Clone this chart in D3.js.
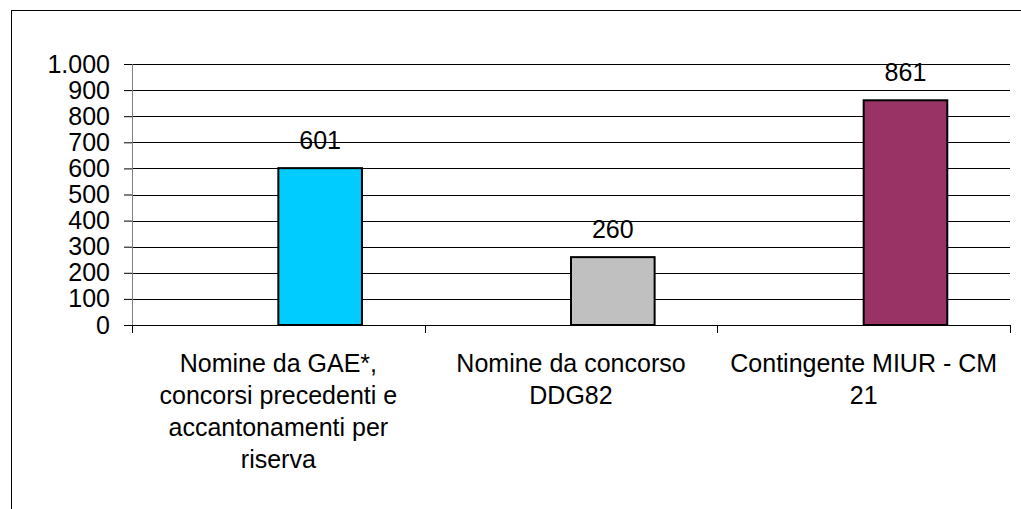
<!DOCTYPE html>
<html>
<head>
<meta charset="utf-8">
<script src="https://cdn.jsdelivr.net/npm/d3@7"></script>
<style>
  body { margin: 0; background: #fff; }
  text { font-family: "Liberation Sans", Arial, sans-serif; fill: #000; }
</style>
</head>
<body>
<div id="chart"></div>
<script>
// data
var categories = [
    "Nomine da GAE*, concorsi precedenti e accantonamenti per riserva",
    "Nomine da concorso DDG82",
    "Contingente MIUR - CM 21"
];
// how Excel wrapped the category labels
var categoryLines = [
    ["Nomine da GAE*,", "concorsi precedenti e", "accantonamenti per", "riserva"],
    ["Nomine da concorso", "DDG82"],
    ["Contingente MIUR - CM", "21"]
];
var values = [601, 260, 861];
var barColors = ["#00CCFF", "#C0C0C0", "#993366"];
// the chart has an empty first series, bars sit in the second slot
var seriesSlots = ["vuota", "valori"];
var yTicks = d3.range(0, 1001, 100);

var W = 1021, H = 509;
var margin = { top: 64, right: 11, bottom: 184, left: 132 };
var width = W - margin.left - margin.right;
var height = H - margin.top - margin.bottom;

var it = d3.formatLocale({ decimal: ",", thousands: ".", grouping: [3], currency: ["€", ""] });
var fmt = it.format(",d");

var svg = d3.select("#chart").append("svg")
    .attr("width", W)
    .attr("height", H);

// outer chart frame (runs off the right and bottom edge)
svg.append("rect")
    .attr("x", 11.5)
    .attr("y", 10.5)
    .attr("width", W + 20)
    .attr("height", H + 20)
    .attr("fill", "none")
    .attr("stroke", "#000")
    .attr("stroke-width", 1);

var g = svg.append("g")
    .attr("transform", "translate(" + margin.left + "," + margin.top + ")");

var x0 = d3.scaleBand()
    .domain(categories)
    .range([0, width])
    .padding(0);

var x1 = d3.scaleBand()
    .domain(seriesSlots)
    .range([0, x0.bandwidth()])
    .paddingInner(0)
    .paddingOuter(0.75);

var y = d3.scaleLinear()
    .domain([0, 1000])
    .range([height, 0]);

// gridlines
g.append("g")
    .selectAll("line")
    .data(yTicks.slice(1))
    .join("line")
        .attr("x1", 0)
        .attr("x2", width)
        .attr("y1", d => Math.round(y(d)) + 0.5)
        .attr("y2", d => Math.round(y(d)) + 0.5)
        .attr("stroke", "#000")
        .attr("stroke-width", 1);

// y axis
var yAxis = g.append("g")
    .attr("class", "yaxis")
    .call(d3.axisLeft(y).tickValues(yTicks).tickFormat(fmt).tickSize(8).tickPadding(14));
yAxis.select(".domain").attr("stroke", "#808080");
yAxis.selectAll(".tick line").attr("stroke", "#000");
yAxis.selectAll(".tick text").style("font-size", "25px").attr("fill", "#000");
yAxis.selectAll("text").attr("font-family", null);

// x axis: ticks between categories
var xAxis = g.append("g")
    .attr("class", "xaxis")
    .attr("transform", "translate(0," + height + ")");
xAxis.append("line")
    .attr("x1", 0)
    .attr("x2", width)
    .attr("y1", 0.5)
    .attr("y2", 0.5)
    .attr("stroke", "#000");
xAxis.selectAll("line.tk")
    .data(categories.concat([null]))
    .join("line")
        .attr("class", "tk")
        .attr("x1", (d, i) => Math.round(i * x0.step()) + 0.5)
        .attr("x2", (d, i) => Math.round(i * x0.step()) + 0.5)
        .attr("y1", 0)
        .attr("y2", 8)
        .attr("stroke", "#000");

// category labels
var lab = xAxis.selectAll("text.cat")
    .data(categories)
    .join("text")
        .attr("class", "cat")
        .attr("text-anchor", "middle")
        .style("font-size", "25px")
        .attr("transform", d => "translate(" + (x0(d) + x0.bandwidth() / 2) + ",47)");
lab.selectAll("tspan")
    .data((d, i) => categoryLines[i])
    .join("tspan")
        .attr("x", 0)
        .attr("y", (d, i) => i * 32)
        .text(d => d);

// bars
g.append("g")
    .selectAll("rect")
    .data(values)
    .join("rect")
        .attr("x", (d, i) => x0(categories[i]) + x1("valori"))
        .attr("y", d => y(d))
        .attr("width", x1.bandwidth())
        .attr("height", d => height - y(d))
        .attr("fill", (d, i) => barColors[i])
        .attr("stroke", "#000")
        .attr("stroke-width", 2);

// value labels
g.append("g")
    .selectAll("text")
    .data(values)
    .join("text")
        .attr("x", (d, i) => x0(categories[i]) + x1("valori") + x1.bandwidth() / 2)
        .attr("y", d => y(d) - 19)
        .attr("text-anchor", "middle")
        .style("font-size", "25px")
        .text(d => fmt(d));
</script>
</body>
</html>
